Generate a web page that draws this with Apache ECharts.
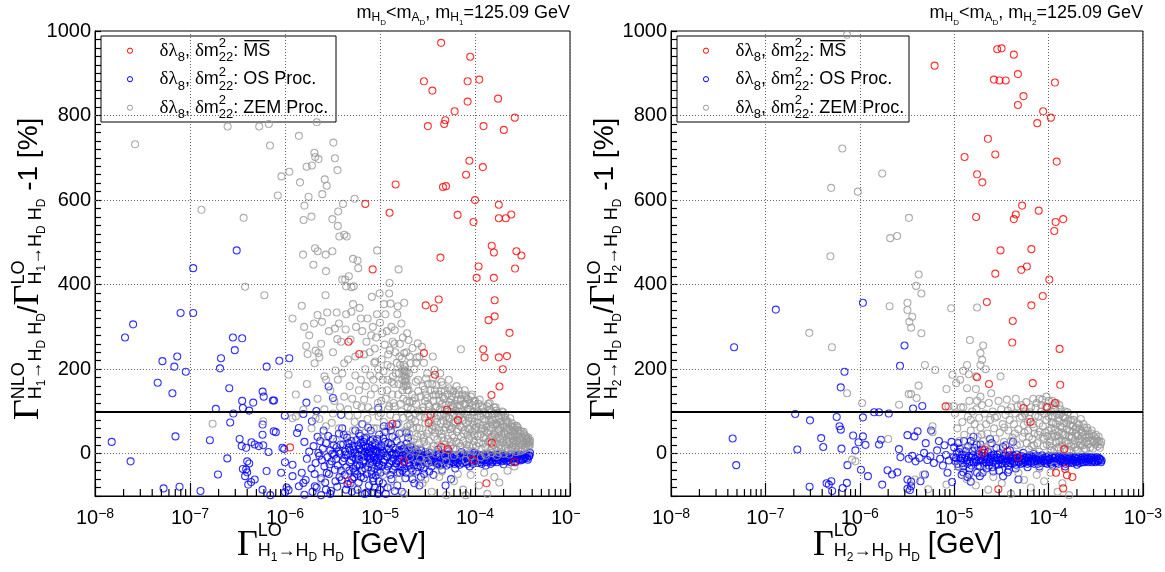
<!DOCTYPE html>
<html><head><meta charset="utf-8">
<script src="https://cdn.jsdelivr.net/npm/echarts@6/dist/echarts.min.js"></script>
<style>html,body{margin:0;padding:0;background:#fff}#c{width:1165px;height:572px}</style>
</head><body><div id="c"></div>
<script>
// ---------------- DATA ----------------
const SERIES_NAMES = ['MS', 'OS Proc.', 'ZEM Proc.'];
const Y_LABELS = [0, 200, 400, 600, 800, 1000];
const Y_GRID = [0, 200, 400, 600, 800];
const X_DECADES = [-8, -7, -6, -5, -4, -3];
const MINOR_MULT = [2, 3, 4, 5, 6, 7, 8, 9];
const REF_LINE = 100;

// Left panel (H1)
const L_MS = [[4.4e-5,972],[8.9e-5,939],[2.9e-5,881],[3.56e-5,859],[8.36e-5,881],[1.11e-4,885],[1.75e-4,840],[8.36e-5,833],[6.1e-5,810],[2.62e-4,795],[3.19e-5,775],[4.74e-5,780],[4.87e-5,789],[1.23e-4,775],[2.01e-4,766],[8.73e-5,693],[1.21e-4,678],[8.05e-5,660],[1.46e-5,637],[4.6e-5,631],[4.95e-5,633],[1.0e-4,600],[7.0e-6,591],[1.78e-4,589],[1.26e-5,570],[2.41e-4,566],[6.56e-5,565],[1.78e-4,557],[2.11e-4,557],[9.64e-5,548],[1.5e-4,492],[1.58e-4,476],[2.73e-4,479],[3.08e-4,469],[4.33e-5,464],[8.37e-6,436],[1.09e-4,443],[2.64e-4,438],[1.04e-4,416],[1.58e-4,416],[3.03e-5,351],[3.69e-5,344],[4.15e-5,365],[1.61e-4,363],[1.61e-4,325],[1.39e-4,316],[2.31e-4,286],[4.67e-6,265],[1.22e-4,247],[2.9e-5,238],[6.05e-6,236],[1.26e-4,228],[1.78e-4,228],[2.17e-4,231],[1.96e-4,200],[3.79e-5,187],[1.81e-4,159],[1.49e-4,139],[5.09e-5,104],[3.4e-5,92],[3.25e-5,73],[1.35e-5,71],[6.62e-5,79],[1.5e-4,26],[4.4e-5,16],[5.19e-5,11],[1.13e-6,15],[1.78e-5,-18],[9.55e-5,-15],[2.6e-4,-20],[4.67e-6,-65],[1.32e-4,-70]];

const L_OS = [[1.08e-7,439],[3.1e-7,481],[1.08e-7,333],[7.96e-8,333],[2.52e-8,306],[2.07e-8,275],[2.83e-7,275],[3.54e-7,273],[2.96e-7,245],[2.12e-7,226],[7.34e-8,230],[5.13e-8,219],[6.84e-8,206],[9.03e-8,194],[2.07e-7,202],[8.71e-7,220],[1.11e-6,226],[6.41e-7,206],[4.57e-8,168],[2.59e-7,155],[6.53e-8,143],[5.81e-7,147],[5.97e-7,135],[2.88e-6,159],[3.2e-6,132],[7.67e-7,126],[7.45e-7,126],[3.54e-7,125],[4.63e-7,121],[1.68e-6,121],[1.87e-7,106],[3.6e-7,108],[4.2e-7,102],[2.14e-6,101],[2.86e-7,95],[9.96e-7,90],[1.56e-6,94],[3.9e-6,92],[9.58e-6,108],[2.65e-7,74],[5.81e-7,69],[7.6e-7,53],[8e-7,51],[1.34e-6,49],[1.4e-6,61],[1.92e-6,77],[7.03e-8,41],[5.8e-7,45],[1.62e-7,32],[3.33e-7,35],[4.44e-7,27],[3.5e-7,18],[3.9e-7,14],[4.8e-7,22],[5.3e-7,18],[5.9e-7,20],[6.7e-7,4],[9.4e-7,14],[9.8e-7,11],[1.5e-8,28],[2.37e-8,-18],[2.47e-7,-11],[4e-7,-18],[4.2e-7,-23],[3.9e-7,-37],[3.6e-7,-36],[4e-7,-44],[6.4e-7,-41],[1.97e-7,-49],[3.8e-7,-53],[4.8e-7,-61],[4.4e-7,-67],[4.1e-7,-73],[5.27e-8,-82],[7.76e-8,-78],[1.29e-7,-88],[5.8e-7,-85],[7e-7,-98],[1.04e-6,-80],[1.09e-6,-86],[1e-6,-91],[9.1e-7,-45],[1.2e-6,-53],[1e-6,-20],[1.2e-6,-26],[1.5e-6,-45],[1.56e-6,-69],[1.4e-6,-77],[1.6e-6,-97],[2.4e-6,-98],[2.06e-6,-77],[2.7e-6,-85],
[1.6e-6,28],[1.7e-6,-12],[1.8e-6,5],[1.9e-6,-35],[2.0e-6,18],[2.1e-6,-22],[2.2e-6,40],[2.3e-6,-5],[2.4e-6,-58],[2.5e-6,12],[2.6e-6,-30],[2.7e-6,25],[2.8e-6,-8],[2.9e-6,-48],[3.0e-6,8],[3.1e-6,-18],[3.2e-6,35],[3.3e-6,-2],[3.4e-6,-65],[3.5e-6,15],[3.6e-6,-28],[3.7e-6,48],[3.8e-6,0],[3.9e-6,-40],[1.65e-6,-62],[2.15e-6,-80],[2.55e-6,55],[3.05e-6,-88],[3.45e-6,-12],[2.25e-6,2],[2.75e-6,-45],[3.25e-6,20],[3.75e-6,-55],[1.95e-6,-90],
[4.1e-6,22],[4.2e-6,-10],[4.3e-6,5],[4.4e-6,-32],[4.5e-6,38],[4.6e-6,-3],[4.7e-6,14],[4.8e-6,-20],[4.9e-6,-70],[5.0e-6,30],[5.2e-6,-8],[5.3e-6,10],[5.4e-6,-42],[5.5e-6,55],[5.7e-6,0],[5.8e-6,-25],[5.9e-6,20],[6.0e-6,-12],[6.2e-6,42],[6.3e-6,-55],[6.4e-6,6],[6.6e-6,-18],[6.7e-6,28],[6.8e-6,-4],[7.0e-6,-35],[7.1e-6,15],[7.3e-6,-8],[7.5e-6,62],[7.6e-6,2],[7.8e-6,-22],[8.0e-6,12],[8.2e-6,-48],[8.4e-6,34],[8.6e-6,-6],[8.8e-6,-80],[9.0e-6,20],[9.2e-6,-15],[9.4e-6,4],[9.6e-6,-30],[9.8e-6,45],[4.4e-6,-85],[5.1e-6,-60],[6.5e-6,70],[7.2e-6,-92],[8.5e-6,-65],[9.5e-6,-95],[5.6e-6,-30],[6.9e-6,35],[8.9e-6,8],
[2.05e-6,-48],[2.35e-6,30],[2.45e-6,-15],[2.65e-6,-68],[2.85e-6,42],[2.95e-6,-25],[3.15e-6,0],[3.35e-6,-38],[3.55e-6,-78],[3.65e-6,5],[3.85e-6,22],[3.95e-6,-62],[4.05e-6,-18],[4.15e-6,45],[4.25e-6,-50],[4.35e-6,-2],[4.55e-6,-72],[4.65e-6,25],[4.75e-6,-40],[4.85e-6,8],[4.95e-6,-15],[5.05e-6,-90],[5.15e-6,18],[5.25e-6,-35],[5.35e-6,-55],[5.45e-6,2],[5.55e-6,-12],[5.65e-6,32],[5.75e-6,-48],[5.85e-6,-5],[5.95e-6,-68],[6.05e-6,12],[6.15e-6,-28],[6.25e-6,25],[6.35e-6,-8],[6.45e-6,-40],[6.55e-6,-2],[6.65e-6,18],[6.75e-6,-58],[6.85e-6,-15],[6.95e-6,5],[7.05e-6,-22],[7.15e-6,38],[7.25e-6,-48],[7.35e-6,-5],[7.45e-6,16],[7.55e-6,-32],[7.65e-6,-75],[7.75e-6,6],[7.85e-6,-12],[7.95e-6,30],[8.05e-6,-40],[8.15e-6,-2],[8.25e-6,20],[8.35e-6,-25],[8.45e-6,-58],[8.55e-6,10],[8.65e-6,-15],[8.75e-6,-35],[8.85e-6,25],[8.95e-6,-8],[9.05e-6,-52],[9.15e-6,4],[9.25e-6,-20],[9.35e-6,35],[9.45e-6,-42],[9.55e-6,-10],[9.65e-6,15],[9.75e-6,-65],[9.85e-6,-25],[9.95e-6,2],
[1.02e-5,-5],[1.04e-5,18],[1.06e-5,-28],[1.08e-5,36],[1.1e-5,2],[1.12e-5,-15],[1.14e-5,52],[1.16e-5,-40],[1.18e-5,10],[1.2e-5,-8],[1.23e-5,25],[1.26e-5,-22],[1.29e-5,4],[1.32e-5,-60],[1.35e-5,40],[1.38e-5,-12],[1.41e-5,14],[1.44e-5,-30],[1.47e-5,0],[1.5e-5,30],[1.54e-5,-18],[1.58e-5,8],[1.62e-5,-45],[1.66e-5,20],[1.7e-5,-6],[1.74e-5,-25],[1.78e-5,12],[1.82e-5,-35],[1.86e-5,-2],[1.9e-5,24],[1.95e-5,-15],[2.0e-5,6],[2.05e-5,-28],[2.1e-5,16],[2.15e-5,-8],[2.2e-5,-40],[2.26e-5,2],[2.32e-5,-20],[2.38e-5,10],[2.44e-5,-12],[2.5e-5,-32],[2.57e-5,0],[2.64e-5,-18],[2.71e-5,8],[2.78e-5,-25],[2.85e-5,-6],[2.92e-5,-48],[2.99e-5,4],[1.07e-5,-70],[1.25e-5,65],[1.43e-5,-88],[1.6e-5,48],[1.85e-5,-58],[2.3e-5,-70],[2.7e-5,-55],[1.15e-5,-95],[1.52e-5,-75],[1.98e-5,38],[1.33e-5,-2],[1.68e-5,-12],[2.12e-5,-2],[2.48e-5,-5],
[1.01e-5,-45],[1.05e-5,8],[1.09e-5,-20],[1.13e-5,28],[1.17e-5,-6],[1.21e-5,-30],[1.24e-5,12],[1.28e-5,-50],[1.31e-5,22],[1.34e-5,-18],[1.37e-5,-38],[1.4e-5,0],[1.45e-5,10],[1.48e-5,-22],[1.53e-5,-45],[1.56e-5,2],[1.61e-5,-12],[1.64e-5,-30],[1.69e-5,10],[1.72e-5,-40],[1.76e-5,-2],[1.8e-5,-20],[1.84e-5,5],[1.88e-5,-45],[1.92e-5,-8],[1.97e-5,14],[2.02e-5,-22],[2.07e-5,-4],[2.13e-5,-35],[2.18e-5,8],[2.23e-5,-15],[2.29e-5,-28],[2.35e-5,-5],[2.41e-5,-42],[2.47e-5,4],[2.53e-5,-18],[2.6e-5,-8],[2.67e-5,-30],[2.74e-5,-2],[2.81e-5,-15],[2.88e-5,-35],[2.95e-5,-10],
[1.1e-5,65],[1.3e-5,55],[1.5e-5,70],[1.9e-5,50],[8.0e-6,55],[6.0e-6,48],[4.0e-6,60],[3.0e-6,-95],[6.9e-6,-95],[1.2e-5,-80],[1.7e-5,-90],[2.2e-5,-60],[2.6e-5,-75],[1.0e-5,-85],[8.3e-6,-92],[5.8e-6,-85],
[3.1e-5,-10],[3.2e-5,-22],[3.3e-5,2],[3.4e-5,-15],[3.5e-5,-30],[3.6e-5,-5],[3.75e-5,-18],[3.9e-5,0],[4.0e-5,-25],[4.2e-5,-8],[4.4e-5,-20],[4.6e-5,-2],[4.8e-5,-15],[5.0e-5,-28],[5.2e-5,-6],[5.5e-5,-18],[5.8e-5,-10],[6.1e-5,-24],[6.4e-5,-4],[6.7e-5,-16],[7.0e-5,-8],[7.4e-5,-22],[7.8e-5,-12],[8.2e-5,-2],[8.6e-5,-18],[9.0e-5,-10],[9.5e-5,-24],[1.0e-4,-6],[1.05e-4,-16],[1.1e-4,-10],[1.16e-4,-20],[1.22e-4,-4],[1.28e-4,-14],[1.35e-4,-8],[1.42e-4,-18],[1.5e-4,-12],[1.58e-4,-4],[1.66e-4,-16],[1.75e-4,-8],[1.85e-4,-14],[1.95e-4,-6],[2.05e-4,-12],[2.15e-4,-18],[2.3e-4,-8],[2.45e-4,-14],[2.6e-4,-4],[2.75e-4,-10],[2.9e-4,-14],[3.1e-4,-6],[3.3e-4,-10],[3.5e-4,-2],[3.7e-4,-6],[3.8e-4,2],[3.3e-5,-42],[4.5e-5,-38],[6.2e-5,-35],[8.8e-5,-30],[1.3e-4,-28],[2.0e-4,-25],[4.1e-5,10],[5.3e-5,6],[7.2e-5,4],[9.8e-5,2],[3.65e-5,-50],[5.6e-5,-60],[4.9e-5,-75],
[3.15e-5,-2],[3.45e-5,-8],[3.85e-5,-14],[4.3e-5,-28],[4.7e-5,-10],[5.1e-5,-18],[5.4e-5,-2],[5.9e-5,-20],[6.3e-5,-12],[6.9e-5,-26],[7.6e-5,-6],[8.0e-5,-20],[8.4e-5,-10],[9.2e-5,-16],[9.9e-5,-2],[1.07e-4,-22],[1.13e-4,-4],[1.2e-4,-14],[1.32e-4,-20],[1.39e-4,-2],[1.46e-4,-24],[1.55e-4,-16],[1.62e-4,-8],[1.7e-4,-20],[1.8e-4,-2],[1.9e-4,-18],[2.0e-4,-10],[2.1e-4,-4],[2.25e-4,-16],[2.4e-4,-20],[2.55e-4,-10],[2.7e-4,-18],[2.85e-4,-4],[3.0e-4,-16],[3.2e-4,-12],[3.4e-4,-8],[3.6e-4,-14],
[3.05e-5,-16],[3.25e-5,-6],[3.55e-5,-20],[3.7e-5,-12],[3.95e-5,-22],[4.15e-5,-2],[4.35e-5,-14],[4.55e-5,-24],[4.75e-5,-4],[4.95e-5,-12],[5.15e-5,-2],[5.35e-5,-24],[5.65e-5,-8],[5.95e-5,-4],[6.2e-5,-16],[6.55e-5,-22],[6.85e-5,-10],[7.2e-5,-16],[7.5e-5,-2],[7.9e-5,-8],[8.3e-5,-24],[8.8e-5,-4],[9.3e-5,-20],[9.7e-5,-12],[1.02e-4,-18],[1.08e-4,-2],[1.14e-4,-14],[1.18e-4,-24],[1.25e-4,-8],[1.31e-4,-2],[1.37e-4,-16],[1.44e-4,-6],[1.52e-4,-20],[1.6e-4,-10],[1.68e-4,-2],[1.77e-4,-14],[1.87e-4,-8],[1.97e-4,-16],[2.07e-4,-4],[2.2e-4,-10],[2.35e-4,-2],[2.5e-4,-12],[2.65e-4,-20],[2.8e-4,-8],[2.95e-4,-2],[3.15e-4,-14],[3.35e-4,-2],[3.55e-4,-10],[3.75e-4,-4]];

const L_ZEM = [[2.64e-8,732],[1.32e-7,577],[3.67e-7,558],[2.49e-7,774],[5.35e-7,774],[6.76e-7,780],[6.95e-7,729],[2.16e-6,784],[1.4e-6,752],[3.23e-6,736],[2.04e-6,712],[2.08e-6,702],[2.25e-6,697],[3.35e-6,699],[1.69e-6,679],[1.92e-6,682],[3.57e-6,671],[1.11e-6,667],[9.18e-7,656],[1.44e-6,642],[2.62e-6,649],[2.75e-6,634],[2.47e-6,614],[8.4e-7,611],[1.77e-6,608],[5.4e-6,603],[4.08e-6,591],[1.6e-6,587],[3.63e-6,573],[1.57e-6,553],[1.9e-6,561],[3.15e-6,555],[3.6e-6,539],[3.73e-6,514],[4.2e-6,518],[4.46e-6,514],[2.07e-6,486],[2.21e-6,479],[1.55e-6,471],[2.68e-6,471],[3.15e-6,479],[9.33e-6,481],[1.99e-6,447],[2.7e-6,432],[5.2e-6,461],[5.8e-6,457],[5.9e-6,439],[1.57e-5,436],[4e-6,412],[4.3e-6,412],[4.7e-6,420],[1.26e-5,404],[3.8e-7,395],[4.4e-6,396],[5.3e-6,396],
[6.06e-7,375],[2.67e-6,375],[5e-6,394],[5.2e-6,354],[5e-6,336],[6.28e-6,320],[8.2e-6,371],[9.9e-6,379],[1.25e-5,379],[1.1e-5,354],[1.29e-5,355],[1.54e-5,349],[1.8e-5,357],[2.78e-6,334],[3.5e-6,334],[2.2e-6,328],[2.45e-6,312],[2.02e-6,308],[3.7e-6,308],[4.35e-6,294],[3.35e-6,296],[3.55e-6,271],[1.59e-6,300],[1.67e-6,255],[1.73e-6,236],[2.1e-6,244],[2.25e-6,238],[2.3e-6,228],[2.05e-6,214],[2.6e-6,183],[2.7e-6,175],[1.09e-6,187],[3.4e-6,197],[4.6e-6,223],[4.2e-6,214],[5.5e-6,230],[8.5e-6,175],[9.8e-6,184],[1.07e-5,175],[1.37e-5,183],[8.8e-6,249],[8.9e-6,218],[1.04e-5,223],[1.43e-5,292],[1.68e-5,308],[1.93e-5,285],[2e-5,269],[2.5e-5,261],[2.76e-5,253],[1.8e-5,238],[2.1e-5,214],[7.11e-5,247],[1.73e-7,71],[5.9e-7,77],[1.2e-6,84],[1.3e-6,88],[1.56e-6,104],[2.1e-6,84],[2.3e-6,82],[2.7e-6,65],[3.1e-6,73],
[6.5e-6,290],[7.2e-6,265],[7.8e-6,240],[8.4e-6,300],[9.1e-6,275],[1.0e-5,310],[1.12e-5,258],[1.18e-5,290],[1.22e-5,235],[1.3e-5,205],[1.36e-5,265],[1.45e-5,240],[1.5e-5,215],[1.58e-5,190],[1.62e-5,260],[1.7e-5,225],[1.75e-5,200],[1.78e-5,185],[1.82e-5,172],[1.86e-5,195],[1.9e-5,178],[1.95e-5,162],[1.83e-5,205],[1.88e-5,160],[2.02e-5,190],[1.72e-5,150],[6.0e-6,150],[6.8e-6,128],[7.5e-6,110],[8.0e-6,140],[9.5e-6,120],[1.05e-5,148],[1.15e-5,130],[1.25e-5,112],[1.4e-5,165],[1.55e-5,140],[1.65e-5,118],[5.5e-6,185],[4.8e-6,160],[4.2e-6,135],[3.8e-6,110],[3.0e-6,150],[7.0e-6,200],[8.7e-6,215],[1.2e-5,175],[1.35e-5,140],[5.8e-6,92],[6.6e-6,70],[7.4e-6,82],[8.6e-6,60],[9.7e-6,88],[1.1e-5,75],[1.28e-5,92],[1.48e-5,85],[1.68e-5,100],[1.92e-5,125],[4.5e-6,45],[5.2e-6,55],[3.5e-6,30],[6.2e-6,-10],[7.7e-6,-35],[9.0e-6,35],[1.08e-5,-50],[1.3e-5,-80],[1.6e-5,-60],[1.8e-5,-95],[4.0e-6,-45],[5.5e-6,-80],[2.4e-6,-62],[1.24e-5,20],[1.45e-5,40],[1.65e-5,15],[1.85e-5,55],
[1.2e-6,320],[1.5e-6,350],[1.8e-6,280],[2.4e-6,260],[2.9e-6,290],[3.2e-6,240],[3.9e-6,265],[4.4e-6,330],[4.9e-6,270],[5.6e-6,300],[6.1e-6,345],[6.8e-6,235],[7.4e-6,320],[8.1e-6,280],[9.3e-6,330],[1.06e-5,285],[1.14e-5,330],[1.2e-5,210],[1.32e-5,300],[1.42e-5,260],[1.52e-5,330],[1.6e-5,230],[1.74e-5,275],[1.9e-5,240],[2.05e-5,230],[2.2e-5,250],[2.4e-5,215],[2.6e-5,230],[1.3e-6,140],[1.7e-6,165],[2.2e-6,130],[2.6e-6,105],[3.3e-6,125],[3.6e-6,175],[4.0e-6,190],[4.6e-6,105],[5.1e-6,130],[5.7e-6,115],[6.3e-6,175],[7.1e-6,160],[7.9e-6,185],[8.8e-6,155],[9.6e-6,200],[1.03e-5,125],[1.09e-5,195],[1.19e-5,150],[1.27e-5,245],[1.33e-5,170],[1.39e-5,120],[1.47e-5,190],[1.57e-5,165],[1.63e-5,210],[1.71e-5,175],[1.77e-5,160],[1.8e-5,195],[1.84e-5,182],[1.87e-5,170],[1.91e-5,192],[1.79e-5,210],[1.93e-5,150],[1.76e-5,130],[1.96e-5,110],[9.2e-6,60],[1.02e-5,95],[1.16e-5,55],[1.21e-5,105],[1.34e-5,65],[1.42e-5,112],[1.56e-5,72],[1.7e-5,50],[1.76e-5,85],[1.94e-5,65],[7.0e-6,50],[8.3e-6,100],[6.4e-6,110],[5.4e-6,75],[4.7e-6,90],[3.7e-6,60],[3.2e-6,95],[2.5e-6,40],[1.9e-6,60],
[2.2e-5,-45],[2.8e-5,-70],[3.5e-5,-90],[4.2e-5,-55],[5.0e-5,-98],[6.0e-5,-65],[7.5e-5,-85],[9.0e-5,-50],[1.1e-4,-75],[1.35e-4,-95],[1.6e-4,-55],[2.2e-4,-40],[3.0e-5,-60],[4.5e-5,-42],[6.6e-5,-48],[8.0e-5,-98],[1.25e-4,-45],[1.8e-4,-68],[2.6e-4,-30],
[2.5e-5,-25],[3.2e-5,-20],[4.1e-5,-28],[5.0e-5,-18],[6.0e-5,-5],[7.0e-5,-2],[8.0e-5,-15],[9.0e-5,-6],[1.0e-4,-20],[1.15e-4,-8],[1.3e-4,-4],[1.5e-4,2],[1.7e-4,-5],[2.0e-4,0],[2.3e-4,-2],[2.7e-4,4],
[2.0e-5,150],[2.05e-5,122],[1.97e-5,95],[2.08e-5,70],[2.02e-5,48],[2.1e-5,30],[1.99e-5,12],[2.06e-5,-8],[2.12e-5,105],[2.15e-5,82],[2.18e-5,140],[2.22e-5,60],
[2.3e-5,200],[2.45e-5,228],[2.38e-5,170],[2.52e-5,148],[2.4e-5,118],[2.55e-5,100],[2.35e-5,77],[2.6e-5,60],[2.48e-5,41],[2.58e-5,22],[2.42e-5,5],[2.65e-5,-12],[2.33e-5,132],[2.62e-5,88],
[2.9e-5,215],[3.05e-5,178],[2.95e-5,152],[3.15e-5,132],[2.85e-5,110],[3.2e-5,92],[3.0e-5,72],[3.25e-5,55],[2.88e-5,38],[3.12e-5,20],[3.3e-5,3],[3.08e-5,-15],[3.18e-5,165],[2.98e-5,125],[3.28e-5,112],
[3.6e-5,230],[3.75e-5,198],[3.55e-5,165],[3.85e-5,140],[3.65e-5,125],[3.95e-5,112],[3.7e-5,96],[3.9e-5,84],[3.58e-5,66],[3.8e-5,50],[4.0e-5,33],[3.68e-5,18],[3.88e-5,0],[3.78e-5,150],[3.98e-5,75],
[4.3e-5,190],[4.55e-5,162],[4.4e-5,148],[4.7e-5,130],[4.5e-5,118],[4.8e-5,104],[4.35e-5,90],[4.65e-5,78],[4.9e-5,62],[4.45e-5,47],[4.75e-5,30],[4.6e-5,15],[4.85e-5,-5],[4.25e-5,125],[4.95e-5,88],
[5.3e-5,175],[5.5e-5,150],[5.7e-5,136],[5.4e-5,122],[5.85e-5,110],[5.6e-5,98],[5.25e-5,85],[5.95e-5,72],[5.45e-5,58],[5.75e-5,44],[5.55e-5,28],[5.9e-5,12],[5.35e-5,65],[5.65e-5,115],[6.05e-5,95],
[6.4e-5,160],[6.7e-5,140],[6.55e-5,128],[6.9e-5,114],[6.3e-5,102],[7.05e-5,92],[6.6e-5,80],[6.95e-5,66],[6.45e-5,52],[7.15e-5,40],[6.8e-5,25],[6.35e-5,10],[7.2e-5,130],[6.75e-5,100],
[7.8e-5,150],[8.1e-5,132],[7.9e-5,118],[8.4e-5,106],[7.7e-5,95],[8.6e-5,84],[8.0e-5,72],[8.5e-5,60],[7.6e-5,48],[8.7e-5,35],[8.2e-5,22],[7.95e-5,8],[8.8e-5,120],[8.3e-5,90],
[9.3e-5,140],[9.7e-5,124],[1.02e-4,110],[9.5e-5,98],[1.05e-4,88],[9.9e-5,76],[1.03e-4,64],[9.4e-5,52],[1.07e-4,42],[9.8e-5,30],[1.04e-4,18],[9.6e-5,5],[1.08e-4,100],[1.01e-4,58],
[1.12e-4,128],[1.18e-4,112],[1.24e-4,100],[1.15e-4,88],[1.28e-4,78],[1.2e-4,68],[1.26e-4,56],[1.14e-4,46],[1.3e-4,36],[1.22e-4,24],[1.17e-4,12],[1.27e-4,0],[1.32e-4,94],[1.19e-4,60],
[1.38e-4,118],[1.44e-4,104],[1.5e-4,92],[1.4e-4,80],[1.54e-4,70],[1.47e-4,60],[1.36e-4,50],[1.52e-4,40],[1.42e-4,30],[1.56e-4,20],[1.45e-4,8],[1.58e-4,110],[1.48e-4,75],
[1.65e-4,110],[1.72e-4,96],[1.8e-4,84],[1.68e-4,72],[1.85e-4,62],[1.76e-4,54],[1.63e-4,44],[1.82e-4,34],[1.7e-4,24],[1.88e-4,14],[1.78e-4,2],[1.9e-4,90],[1.74e-4,66],
[1.98e-4,98],[2.05e-4,86],[2.15e-4,74],[2.0e-4,64],[2.2e-4,55],[2.1e-4,46],[1.95e-4,38],[2.18e-4,28],[2.06e-4,18],[2.24e-4,8],[2.12e-4,80],[2.26e-4,40],
[2.35e-4,84],[2.45e-4,72],[2.55e-4,62],[2.4e-4,54],[2.6e-4,46],[2.5e-4,38],[2.32e-4,30],[2.58e-4,20],[2.42e-4,10],[2.62e-4,66],[2.48e-4,26],
[2.75e-4,66],[2.85e-4,56],[2.95e-4,48],[2.8e-4,40],[3.05e-4,33],[2.9e-4,25],[2.7e-4,16],[3.0e-4,6],[3.1e-4,52],[2.78e-4,30],
[3.25e-4,52],[3.4e-4,42],[3.5e-4,34],[3.3e-4,26],[3.45e-4,18],[3.2e-4,10],[3.55e-4,28],
[3.65e-4,38],[3.75e-4,28],[3.7e-4,20],[3.8e-4,32],[3.6e-4,14],
[2.03e-5,88],[2.14e-5,18],[2.2e-5,125],[2.27e-5,35],[2.36e-5,95],[2.44e-5,62],[2.51e-5,175],[2.57e-5,12],[2.67e-5,135],[2.72e-5,45],[2.78e-5,102],[2.83e-5,160],[2.92e-5,28],[2.97e-5,85],[3.03e-5,140],[3.1e-5,48],[3.14e-5,190],[3.22e-5,118],[3.27e-5,30],[3.33e-5,78],[3.38e-5,150],[3.44e-5,10],[3.5e-5,100],[3.53e-5,58],[3.62e-5,180],[3.66e-5,138],[3.72e-5,40],[3.82e-5,108],[3.87e-5,62],[3.93e-5,162],[4.05e-5,90],[4.1e-5,20],[4.15e-5,140],[4.2e-5,55],[4.28e-5,105],[4.38e-5,72],[4.42e-5,170],[4.52e-5,38],[4.58e-5,135],[4.68e-5,95],[4.72e-5,55],[4.82e-5,150],[4.88e-5,22],[4.98e-5,115],[5.05e-5,70],[5.12e-5,140],[5.18e-5,35],[5.22e-5,100],[5.32e-5,155],[5.42e-5,82],[5.52e-5,18],[5.62e-5,128],[5.72e-5,62],[5.82e-5,90],[5.92e-5,148],[6.0e-5,38],[6.1e-5,118],[6.2e-5,75],[6.25e-5,140],[6.38e-5,28],[6.48e-5,112],[6.62e-5,58],[6.72e-5,150],[6.85e-5,88],[6.98e-5,18],[7.08e-5,125],[7.25e-5,62],[7.32e-5,100],[7.4e-5,140],[7.5e-5,30],[7.55e-5,80],[7.72e-5,118],[7.85e-5,55],[7.98e-5,138],[8.15e-5,12],[8.25e-5,100],[8.35e-5,45],[8.45e-5,128],[8.55e-5,78],[8.68e-5,18],[8.8e-5,58],[8.92e-5,105],[9.05e-5,135],[9.15e-5,40],[9.25e-5,85],[9.45e-5,115],[9.55e-5,20],[9.65e-5,68],[9.75e-5,100],[9.9e-5,45],[1.0e-4,125],[1.06e-4,72],[1.09e-4,118],[1.1e-4,25],[1.13e-4,95],[1.16e-4,58],[1.21e-4,108],[1.23e-4,38],[1.25e-4,82],[1.29e-4,16],[1.31e-4,62],[1.34e-4,112],[1.37e-4,28],[1.39e-4,90],[1.41e-4,55],[1.43e-4,120],[1.46e-4,38],[1.49e-4,100],[1.51e-4,14],[1.53e-4,80],[1.57e-4,48],[1.6e-4,95],[1.62e-4,28],[1.64e-4,68],[1.67e-4,102],[1.69e-4,8],[1.73e-4,38],[1.77e-4,88],[1.79e-4,58],[1.83e-4,20],[1.86e-4,76],[1.89e-4,45],[1.93e-4,100],[1.96e-4,26],[1.99e-4,70],[2.03e-4,50],[2.08e-4,92],[2.11e-4,12],[2.14e-4,60],[2.17e-4,34],[2.22e-4,76],[2.28e-4,22],[2.31e-4,58],[2.37e-4,42],[2.43e-4,64],[2.47e-4,16],[2.52e-4,50],[2.57e-4,32],[2.64e-4,56],[2.68e-4,24],[2.72e-4,44],[2.82e-4,62],[2.88e-4,14],[2.92e-4,36],[2.98e-4,54],[3.08e-4,20],[3.15e-4,40],[3.22e-4,30],[3.28e-4,46],[3.36e-4,12],[3.42e-4,34],[3.48e-4,24],[3.58e-4,36],[3.68e-4,26],[3.78e-4,20]];

// Right panel (H2)
const R_MS = [[6.21e-6,918],[2.86e-5,957],[3.18e-5,959],[4.29e-5,944],[4.74e-5,898],[2.64e-5,885],[3.02e-5,883],[3.52e-5,883],[1.17e-4,878],[5.43e-5,846],[4.74e-5,825],[8.77e-5,810],[1.06e-4,795],[7.6e-5,782],[2.28e-5,745],[1.29e-5,702],[2.73e-5,708],[1.22e-4,691],[1.75e-5,661],[1.99e-5,642],[5.25e-5,587],[7.87e-5,575],[4.5e-5,566],[4.29e-5,555],[1.71e-5,560],[1.19e-4,548],[1.43e-4,555],[1.15e-4,527],[3.1e-5,481],[6.58e-5,484],[5.9e-5,443],[5.15e-5,435],[2.73e-5,426],[1.02e-4,412],[8.69e-5,373],[2.22e-5,359],[6.58e-5,351],[4.18e-5,314],[4.13e-5,263],[1.31e-4,248],[1.75e-5,181],[2.34e-5,165],[6.81e-5,167],[1.33e-4,163],[8.13e-6,112],[5.43e-5,108],[9.61e-5,110],[1.17e-4,120],[6.46e-5,75],[1.98e-5,2],[2.1e-5,10],[3.68e-5,6],[4.74e-5,-8],[1.47e-4,11],[1.2e-4,-45],[1.5e-4,-36],[1.57e-4,-51],[1.79e-4,-55],[2.94e-5,-84],[1.43e-4,-82]];

const R_OS = [[4.66e-8,252],[1.29e-7,341],[1.08e-6,357],[2.98e-6,256],[2.67e-6,208],[6.89e-7,194],[6.29e-7,157],[2.07e-7,94],[2.97e-7,79],[5.7e-7,87],[6.1e-7,65],[6.3e-7,57],[1.08e-6,86],[1.42e-6,98],[1.6e-6,98],[2.03e-6,95],[3.67e-6,107],[4.6e-6,113],[4.5e-8,36],[4.91e-8,-27],[2.18e-7,10],[3.9e-7,37],[4.1e-7,16],[6.4e-7,12],[8.5e-7,43],[9.7e-7,27],[1.08e-6,41],[9e-7,8],[1.15e-6,21],[1.68e-6,33],[1.6e-6,22],[3.2e-6,44],[3.8e-6,41],[4.1e-6,53],[5.7e-6,55],[2.6e-6,11],[2.7e-6,-8],[7.4e-7,-27],[1.03e-6,-38],[1.22e-6,-53],[1.97e-6,-39],[2.2e-6,-49],[2.5e-6,-44],[3.2e-6,-61],[3.5e-6,-66],[4.4e-6,-65],[4.9e-6,-49],[2.94e-7,-78],[4.45e-7,-70],[5e-7,-65],[4.7e-7,-73],[5.1e-7,-88],[6.6e-7,-81],[7.3e-7,-69],[1.73e-6,-73],[3.2e-6,-83],[3.4e-6,-86],[3.5e-6,-77],[9.5e-6,-67],[1.25e-5,-44],[1.43e-5,-49],[1.5e-5,-66],[1.87e-5,-53],[3.3e-5,-53],[3.7e-5,-44],[4.8e-5,-61],
[3.3e-6,-12],[3.6e-6,-5],[3.9e-6,-18],[4.3e-6,-10],[4.8e-6,2],[5.2e-6,-15],[5.6e-6,-6],[6.1e-6,-22],[6.6e-6,8],[7.1e-6,-12],[7.6e-6,-28],[8.2e-6,-3],[8.8e-6,-16],[9.4e-6,28],[9.9e-6,-8],[6.9e-6,30],[7.9e-6,20],[5.0e-6,25],[8.5e-6,-45],
[1.03e-5,-18],[1.07e-5,2],[1.11e-5,-30],[1.15e-5,12],[1.19e-5,-10],[1.23e-5,-22],[1.27e-5,30],[1.31e-5,-4],[1.36e-5,-15],[1.41e-5,18],[1.46e-5,-35],[1.51e-5,-8],[1.56e-5,6],[1.61e-5,-20],[1.67e-5,-12],[1.73e-5,22],[1.79e-5,-28],[1.85e-5,-2],[1.92e-5,-16],[1.99e-5,10],[2.06e-5,-24],[2.13e-5,-6],[2.21e-5,-14],[2.29e-5,4],[2.37e-5,-20],[2.45e-5,-10],[2.54e-5,-32],[2.63e-5,-2],[2.72e-5,-16],[2.82e-5,-8],[2.92e-5,-26],[3.02e-5,0],[3.13e-5,-14],[3.24e-5,-22],[3.36e-5,-6],[3.48e-5,-18],[3.6e-5,-10],[3.73e-5,-28],[3.86e-5,-4],[4.0e-5,-16],[4.14e-5,-8],[4.29e-5,-22],[4.44e-5,-12],[4.6e-5,-2],[4.76e-5,-18],[4.93e-5,-10],[5.1e-5,-24],[5.28e-5,-6],[5.47e-5,-14],[5.66e-5,-20],[5.86e-5,-8],[6.07e-5,-16],[6.28e-5,-4],[6.5e-5,-22],[6.73e-5,-12],[6.97e-5,-18],[7.21e-5,-6],[7.47e-5,-14],[7.73e-5,-24],[8.0e-5,-10],[8.28e-5,-18],[8.57e-5,-4],[8.87e-5,-14],[9.18e-5,-22],[9.5e-5,-8],[9.84e-5,-16],[1.02e-4,-12],[1.05e-4,-20],[1.09e-4,-6],[1.13e-4,-16],[1.17e-4,-10],[1.21e-4,-22],[1.25e-4,-14],[1.3e-4,-6],[1.34e-4,-18],[1.39e-4,-12],[1.44e-4,-20],[1.49e-4,-8],[1.54e-4,-16],[1.6e-4,-12],[1.65e-4,-22],[1.71e-4,-10],[1.77e-4,-18],[1.83e-4,-14],[1.9e-4,-8],[1.96e-4,-20],[2.03e-4,-12],[2.1e-4,-16],[2.18e-4,-10],[2.26e-4,-20],[2.34e-4,-14],[2.42e-4,-8],[2.5e-4,-18],[2.59e-4,-12],[2.68e-4,-16],[2.78e-4,-10],[2.88e-4,-20],[2.98e-4,-14],[3.08e-4,-18],[3.19e-4,-12],[3.3e-4,-16],[3.42e-4,-10],[3.54e-4,-14],[3.66e-4,-16],
[1.2e-5,-50],[1.6e-5,40],[2.0e-5,-45],[2.5e-5,25],[3.0e-5,-40],[1.0e-5,15],[1.38e-5,-55],[2.2e-5,-35],[2.8e-5,14],[4.5e-5,-35],[6.0e-5,-32],[8.0e-5,-30],[1.1e-4,-28],[1.5e-4,-30],[2.0e-4,-26],[3.3e-5,16],[3.9e-5,8],[5.4e-5,2],[7.0e-5,0],
[1.05e-5,-10],[1.09e-5,-24],[1.13e-5,4],[1.17e-5,-16],[1.21e-5,-2],[1.25e-5,-30],[1.29e-5,-12],[1.33e-5,6],[1.38e-5,-24],[1.43e-5,-6],[1.48e-5,-18],[1.53e-5,-28],[1.58e-5,-4],[1.64e-5,14],[1.7e-5,-20],[1.76e-5,-8],[1.82e-5,-16],[1.88e-5,-30],[1.95e-5,-6],[2.02e-5,-14],[2.09e-5,2],[2.17e-5,-20],[2.25e-5,-8],[2.33e-5,-28],[2.41e-5,-14],[2.5e-5,-4],[2.58e-5,-20],[2.68e-5,-10],[2.77e-5,-24],[2.87e-5,-2],[2.97e-5,-16],[3.07e-5,-10],[3.18e-5,-24],[3.3e-5,-14],[3.42e-5,-4],[3.54e-5,-22],[3.67e-5,-16],[3.8e-5,-8],[3.93e-5,-22],[4.07e-5,-12],[4.22e-5,-4],[4.37e-5,-18],[4.52e-5,-26],[4.68e-5,-10],[4.85e-5,-20],[5.02e-5,-6],[5.2e-5,-16],[5.38e-5,-22],[5.57e-5,-10],[5.76e-5,-16],[5.96e-5,-24],[6.17e-5,-10],[6.39e-5,-18],[6.62e-5,-6],[6.85e-5,-14],[7.09e-5,-24],[7.34e-5,-10],[7.6e-5,-18],[7.86e-5,-6],[8.14e-5,-14],[8.42e-5,-22],[8.72e-5,-10],[9.02e-5,-18],[9.34e-5,-14],[9.67e-5,-24],[1.0e-4,-6],[1.04e-4,-14],[1.07e-4,-24],[1.11e-4,-10],[1.15e-4,-18],[1.19e-4,-6],[1.23e-4,-16],[1.27e-4,-24],[1.32e-4,-10],[1.37e-4,-14],[1.41e-4,-6],[1.47e-4,-18],[1.52e-4,-24],[1.57e-4,-8],[1.63e-4,-16],[1.68e-4,-6],[1.74e-4,-14],[1.8e-4,-22],[1.87e-4,-16],[1.93e-4,-10],[2.0e-4,-18],[2.07e-4,-8],[2.14e-4,-22],[2.22e-4,-14],[2.3e-4,-8],[2.38e-4,-20],[2.46e-4,-12],[2.55e-4,-8],[2.64e-4,-20],[2.73e-4,-14],[2.83e-4,-8],[2.93e-4,-16],[3.03e-4,-10],[3.14e-4,-20],[3.25e-4,-8],[3.36e-4,-18],[3.48e-4,-12],[3.6e-4,-20],
[1.1e-5,25],[1.5e-5,30],[1.9e-5,22],[2.4e-5,35],[3.5e-5,20],[4.2e-5,28],[1.75e-5,-45],[2.6e-5,-42],[3.8e-5,-38]];

const R_ZEM = [[7.34e-7,991],[6.53e-7,722],[1.73e-6,663],[4.97e-7,629],[9.54e-7,620],[3.32e-6,558],[2.49e-6,515],[2.1e-6,510],[4.89e-7,467],[4.21e-6,424],[3.96e-6,397],[4.5e-6,379],[3.2e-6,357],[3.2e-6,340],[3.35e-6,312],[3.6e-6,324],[3.5e-6,298],[2.07e-6,349],[9.3e-6,344],[1.75e-5,346],[4.5e-6,285],[2.92e-7,286],[5.07e-7,252],[1.47e-5,269],[2.03e-5,256],[1.9e-5,238],[1.98e-5,222],[1.9e-5,210],[2.15e-5,200],[1.37e-5,210],[1.25e-5,196],[1.43e-5,188],[4.9e-6,210],[6.3e-6,198],[9.6e-6,187],[1.05e-5,167],[1.16e-5,175],[1.7e-5,183],[3.1e-5,183],[4.2e-6,161],[4e-6,132],[3.5e-6,141],[3.3e-6,141],[8.3e-6,153],[8.7e-6,112],[9.9e-6,113],[1.37e-5,155],[1.7e-5,153],[1.9e-5,135],[2.47e-5,143],[7.34e-7,143],[1.06e-6,120],[2.61e-6,116],[2e-6,35],[9e-7,-18],[8.3e-7,-14],[5.9e-6,65],[5.9e-6,51],[5.3e-6,-84],[3.85e-6,-61],[4.7e-6,-49],[8.3e-6,-73],
[1.02e-5,95],[1.08e-5,60],[1.13e-5,30],[1.18e-5,110],[1.22e-5,75],[1.28e-5,45],[1.33e-5,15],[1.4e-5,88],[1.45e-5,125],[1.5e-5,55],[1.55e-5,100],[1.6e-5,25],[1.65e-5,70],[1.72e-5,105],[1.78e-5,40],[1.84e-5,85],[1.9e-5,62],[1.97e-5,115],[2.03e-5,30],[2.1e-5,95],[2.18e-5,70],[2.25e-5,48],[2.33e-5,120],[2.4e-5,80],[2.48e-5,20],[2.56e-5,100],[2.65e-5,60],[2.75e-5,35],[2.85e-5,88],[2.95e-5,125],[3.05e-5,50],[3.16e-5,105],[3.27e-5,70],[3.38e-5,28],[3.5e-5,92],[3.62e-5,128],[3.75e-5,55],[3.88e-5,80],[4.02e-5,110],[4.16e-5,38],[4.3e-5,70],[4.46e-5,95],[4.62e-5,20],[4.78e-5,58],[4.95e-5,85],[5.12e-5,115],[5.3e-5,40],[5.48e-5,68],[5.68e-5,100],[5.88e-5,25],[6.08e-5,55],[6.3e-5,82],[6.52e-5,110],[6.75e-5,35],[6.98e-5,62],[7.23e-5,90],[7.48e-5,120],[7.74e-5,45],[8.01e-5,72],[8.29e-5,100],[8.58e-5,128],[8.88e-5,18],[9.19e-5,50],[9.51e-5,80],[9.84e-5,108],[1.01e-4,125],[1.04e-4,30],[1.07e-4,60],[1.1e-4,88],[1.13e-4,115],[1.16e-4,40],[1.19e-4,70],[1.22e-4,95],[1.25e-4,15],[1.28e-4,52],[1.31e-4,78],[1.34e-4,105],[1.37e-4,32],[1.4e-4,62],[1.43e-4,88],[1.47e-4,10],[1.51e-4,45],[1.55e-4,72],[1.59e-4,98],[1.63e-4,25],[1.68e-4,55],[1.72e-4,80],[1.77e-4,38],[1.82e-4,65],[1.87e-4,90],[1.92e-4,15],[1.97e-4,48],[2.02e-4,72],[2.08e-4,30],[2.14e-4,58],[2.2e-4,82],[2.26e-4,40],[2.32e-4,20],[2.38e-4,62],[2.45e-4,45],[2.52e-4,28],[2.6e-4,55],[2.68e-4,38],[2.76e-4,15],[2.85e-4,48],[2.94e-4,30],[3.03e-4,42],[3.13e-4,22],[3.23e-4,35],[3.33e-4,18],[3.44e-4,30],[3.55e-4,22],[3.62e-4,28],
[6.2e-5,10],[7.0e-5,20],[7.9e-5,5],[8.7e-5,40],[9.6e-5,22],[1.05e-4,8],[1.12e-4,48],[1.2e-4,28],[1.29e-4,12],[1.38e-4,50],[1.48e-4,30],[1.57e-4,58],[1.66e-4,8],[1.75e-4,42],[1.85e-4,22],[1.95e-4,62],[2.05e-4,8],[2.15e-4,35],[2.3e-4,50],[2.5e-4,10],[1.08e-4,75],[1.18e-4,105],[9.0e-5,95],[1.3e-4,92],[1.5e-4,85],[1.0e-4,55],
[3.1e-5,15],[3.4e-5,62],[3.7e-5,102],[4.0e-5,30],[4.4e-5,48],[4.7e-5,112],[5.0e-5,22],[5.25e-5,88],[5.55e-5,50],[5.8e-5,122],[6.0e-5,75],[6.2e-5,40],[6.4e-5,98],[6.6e-5,18],[6.8e-5,70],[7.1e-5,48],[7.3e-5,108],[7.6e-5,25],[7.8e-5,88],[8.1e-5,52],[8.4e-5,115],[8.7e-5,65],[9.0e-5,35],[9.3e-5,112],[9.7e-5,42],[1.0e-4,88],[1.03e-4,18],[1.06e-4,100],[1.09e-4,40],[1.12e-4,72],[1.15e-4,10],[1.18e-4,58],[1.21e-4,120],[1.24e-4,42],[1.27e-4,85],[1.3e-4,30],[1.33e-4,65],[1.36e-4,95],[1.39e-4,20],[1.42e-4,45],[1.45e-4,72],[1.49e-4,100],[1.53e-4,28],[1.57e-4,8],[1.61e-4,78],[1.65e-4,40],[1.7e-4,68],[1.74e-4,18],[1.79e-4,52],[1.84e-4,80],[1.89e-4,32],[1.94e-4,58],[1.99e-4,10],[2.04e-4,42],[2.1e-4,68],[2.16e-4,20],[2.22e-4,50],[2.28e-4,30],[2.34e-4,70],[2.41e-4,12],[2.48e-4,38],[2.55e-4,62],[2.62e-4,22],[2.7e-4,45],[2.78e-4,30],[2.87e-4,55],[2.96e-4,12],[3.06e-4,30],[3.18e-4,45],[3.3e-4,28],[3.4e-4,40],[3.5e-4,14],[2.2e-5,15],[2.7e-5,85],[1.95e-5,45],[1.5e-5,80],[1.25e-5,110],[1.75e-5,125],[4.5e-5,130],[5.6e-5,95],[6.9e-5,130],[9.5e-5,135],[1.1e-4,125],[1.3e-4,115],[8.0e-5,130],
[1.1e-5,-30],[1.35e-5,-60],[1.7e-5,-75],[2.0e-5,-40],[2.3e-5,-85],[2.6e-5,-55],[3.2e-5,-70],[4.0e-5,-95],[5.5e-5,-62],[6.5e-5,-80],[7.5e-5,-50],[9.0e-5,-65],[1.05e-4,-45],[1.25e-4,-90],[1.4e-4,-70],[1.65e-4,-98],[1.15e-4,-30],[8.0e-5,-35],[4.8e-5,-45]];

// ---------------- STYLE / LAYOUT ----------------
const SANS = 'Liberation Sans', SERIF = 'Liberation Serif';
const COLORS = {MS:'#ff0000', OS:'#0000ff', ZEM:'#999999'};
const GRIDS = [{left:95, top:31, width:475, height:465}, {left:671, top:31, width:472, height:465}];

const measCtx = document.createElement('canvas').getContext('2d');
function tw(t, s, f){ measCtx.font = s + 'px "' + f + '"'; return measCtx.measureText(t).width; }
function buildMath(items){
  let x = 0, saved = 0, maxX = 0; const ch = [];
  items.forEach(it => {
    if (it === 'save'){ saved = x; maxX = x; return; }
    if (it === 'back'){ maxX = Math.max(maxX, x); x = saved; return; }
    if (it === 'max'){ x = Math.max(x, maxX); return; }
    const f = it.f || SANS; const w = tw(it.t, it.s, f);
    ch.push({type:'text', x:x, y:it.dy || 0, silent:true,
      style:{text:it.t, fontSize:it.s, fontFamily:f, fill:'#000', align:'left', verticalAlign:'middle', textAlign:'left', textVerticalAlign:'middle'}});
    if (it.over !== undefined){ ch.push({type:'line', silent:true, shape:{x1:x+1, y1:it.over, x2:x+w-1, y2:it.over}, style:{stroke:'#000', lineWidth:1.3}}); }
    x += w;
  });
  return {children: ch, width: x};
}

function subHH(h, big, small, dyBig, dySmall){
  return [{t:'H', s:big, dy:dyBig}, {t:h, s:small, dy:dySmall}, {t:'\u2192', s:big, dy:dyBig},
          {t:'H', s:big, dy:dyBig}, {t:'D', s:small, dy:dySmall}, {t:' ', s:big, dy:dyBig},
          {t:'H', s:big, dy:dyBig}, {t:'D', s:small, dy:dySmall}];
}
function yTitleItems(h){
  return [{t:'\u0393', s:36, f:SERIF}, 'save', {t:'NLO', s:18, dy:-10}, 'back', ...subHH(h, 18, 12, 7, 13), 'max',
          {t:'/', s:28}, {t:'\u0393', s:36, f:SERIF}, 'save', {t:'LO', s:18, dy:-10}, 'back', ...subHH(h, 18, 12, 7, 13), 'max',
          {t:' -1 [%]', s:28}];
}
function xTitleItems(h){
  return [{t:'\u0393', s:36, f:SERIF}, 'save', {t:'LO', s:18, dy:-15}, 'back', ...subHH(h, 18, 12, 5, 12), 'max',
          {t:' [GeV]', s:29, dy:-1}];
}
function headerItems(h){
  return [{t:'m', s:18}, {t:'H', s:12, dy:5}, {t:'D', s:8, dy:10}, {t:'<m', s:18}, {t:'A', s:12, dy:5}, {t:'D', s:8, dy:10},
          {t:', m', s:18}, {t:'H', s:12, dy:5}, {t:h, s:8, dy:10}, {t:'=125.09 GeV', s:18}];
}
function legendItems(label, isMS){
  const base = [{t:'\u03b4\u03bb', s:19, f:SERIF}, {t:'8', s:13, dy:7}, {t:', ', s:18}, {t:'\u03b4', s:19, f:SERIF}, {t:'m', s:18},
                'save', {t:'2', s:13, dy:-7}, 'back', {t:'22', s:13, dy:7}, 'max', {t:': ', s:18}];
  if (isMS) base.push({t:'MS', s:18, over:-10}); else base.push({t:label, s:18});
  return base;
}

function panelGraphics(i, h){
  const g = GRIDS[i], els = [];
  const hd = buildMath(headerItems(h));
  els.push({type:'group', x:g.left + g.width - hd.width, y:13, children:hd.children, z:50});
  const xt = buildMath(xTitleItems(h));
  els.push({type:'group', x:g.left + 142, y:546, children:xt.children, z:50});
  const yt = buildMath(yTitleItems(h));
  els.push({type:'group', x:g.left - 66, y:420, rotation:Math.PI/2, children:yt.children, z:50});
  const lx = g.left + 6, ly = 36, lw = (i === 0 ? 235 : 232), lh = 86;
  const kids = [{type:'rect', shape:{x:0, y:0, width:lw, height:lh}, style:{fill:'#fff', stroke:'#000', lineWidth:1}}];
  const entries = [['MS', COLORS.MS, true], ['OS Proc.', COLORS.OS, false], ['ZEM Proc.', COLORS.ZEM, false]];
  entries.forEach((e, k) => {
    const cy = 14.7 + k * 28.5;
    kids.push({type:'circle', shape:{cx:29, cy:cy, r:2.6}, style:{fill:'none', stroke:e[1], lineWidth:1}});
    const lt = buildMath(legendItems(e[0], e[2]));
    kids.push({type:'group', x:58.5, y:cy, children:lt.children});
  });
  els.push({type:'group', x:lx, y:ly, children:kids, z:60});
  return els;
}

function scatter(i, name, data, color, z, extra){
  return Object.assign({type:'scatter', name:name, xAxisIndex:i, yAxisIndex:i, data:data, symbol:'circle', symbolSize:7, z:z,
    itemStyle:{color:'rgba(0,0,0,0)', borderColor:color, borderWidth:1.1}, emphasis:{disabled:true}, silent:true}, extra || {});
}

const minorVals = [];
X_DECADES.slice(0, -1).forEach(e => MINOR_MULT.forEach(m => minorVals.push([m * Math.pow(10, e), -100])));

const series = [];
[[L_MS, L_OS, L_ZEM], [R_MS, R_OS, R_ZEM]].forEach((d, i) => {
  series.push({type:'scatter', xAxisIndex:i, yAxisIndex:i, data:[], z:1, silent:true,
    markLine:{silent:true, symbol:'none', animation:false, label:{show:false},
      lineStyle:{color:'#666', type:[1,2], width:1},
      data:Y_GRID.map(v => ({yAxis:v}))}});
  series.push(scatter(i, SERIES_NAMES[1], d[1], COLORS.OS, 2));
  series.push(scatter(i, SERIES_NAMES[2], d[2], COLORS.ZEM, 3));
  series.push(scatter(i, SERIES_NAMES[0], d[0], COLORS.MS, 4, {
    markLine:{silent:true, symbol:'none', animation:false, label:{show:false},
      lineStyle:{color:'#000', type:'solid', width:2}, data:[{yAxis:REF_LINE}]}}));
  series.push({type:'custom', xAxisIndex:i, yAxisIndex:i, data:minorVals, z:6, silent:true, clip:false,
    renderItem:(p, api) => { const c = api.coord([api.value(0), api.value(1)]);
      return {type:'line', shape:{x1:c[0], y1:c[1], x2:c[0], y2:c[1] - 7}, style:{stroke:'#000', lineWidth:1.2}}; }});
});

const option = {
  animation:false,
  backgroundColor:'#fff',
  grid: GRIDS.map(g => Object.assign({show:true, borderColor:'#000', borderWidth:1, backgroundColor:'transparent', containLabel:false}, g)),
  xAxis: GRIDS.map((g, i) => ({type:'log', gridIndex:i, logBase:10, min:1e-8, max:1e-3,
    axisLine:{show:true, onZero:false, lineStyle:{color:'#000', width:1}},
    axisTick:{show:true, inside:true, length:13, lineStyle:{color:'#000', width:1.2}},
    splitLine:{show:true, lineStyle:{color:'#666', type:[1,2], width:1}}, minorTick:{show:false},
    axisLabel:{margin:11, color:'#000', showMinLabel:true, showMaxLabel:true,
      formatter: v => { const e = Math.round(Math.log10(v)); return '{b|10}{e|\u2212' + Math.abs(e) + '}'; },
      rich:{b:{fontSize:20, fontFamily:SANS, color:'#000', lineHeight:22}, e:{fontSize:14, fontFamily:SANS, color:'#000', verticalAlign:'top', lineHeight:14}}}})),
  yAxis: GRIDS.map((g, i) => ({type:'value', gridIndex:i, min:-100, max:1000, interval:20,
    axisLine:{show:true, onZero:false, lineStyle:{color:'#000', width:1}},
    axisTick:{show:true, inside:true, length:6, lineStyle:{color:'#000', width:1.2}},
    splitLine:{show:false},
    axisLabel:{interval:0, margin:4, fontSize:20, fontFamily:SANS, color:'#000',
      formatter: v => (Y_LABELS.indexOf(Math.round(v)) >= 0 ? String(Math.round(v)) : '')}})),
  series: series,
  graphic: [...panelGraphics(0, '1'), ...panelGraphics(1, '2'),
    {type:'rect', shape:{x:580, y:500, width:28, height:45}, style:{fill:'#fff'}, z:100}]
};

const chart = echarts.init(document.getElementById('c'), null, {renderer:'canvas'});
chart.setOption(option);
</script></body></html>
